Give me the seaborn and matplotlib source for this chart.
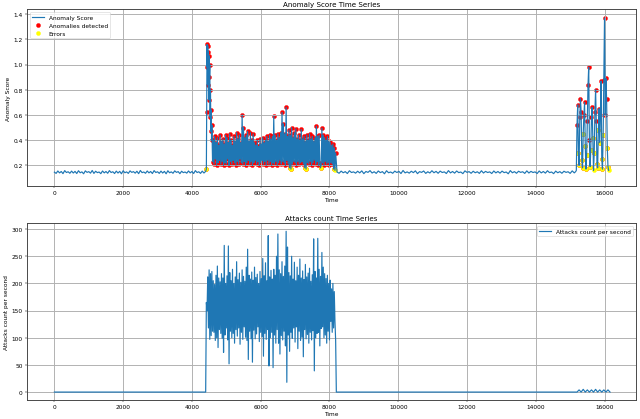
import numpy as np
import pandas as pd
import matplotlib
matplotlib.use("Agg")
import matplotlib.pyplot as plt
import seaborn as sns

# anomaly score, one segment at a time
# quiet period, t = 0 .. 4400 every 50
score_calm1 = [
    0.146, 0.136, 0.155, 0.140, 0.151, 0.134, 0.158, 0.143, 0.149, 0.137,
    0.154, 0.139, 0.152, 0.135, 0.157, 0.141, 0.148, 0.133, 0.156, 0.144,
    0.150, 0.138, 0.159, 0.136, 0.153, 0.142, 0.147, 0.134, 0.155, 0.140,
    0.151, 0.137, 0.158, 0.143, 0.149, 0.135, 0.154, 0.139, 0.152, 0.133,
    0.157, 0.141, 0.148, 0.136, 0.156, 0.144, 0.150, 0.138, 0.153, 0.134,
    0.159, 0.142, 0.147, 0.137, 0.155, 0.140, 0.151, 0.135, 0.158, 0.143,
    0.149, 0.136, 0.154, 0.139, 0.152, 0.133, 0.157, 0.141, 0.148, 0.137,
    0.156, 0.144, 0.150, 0.134, 0.153, 0.142, 0.147, 0.138, 0.155, 0.140,
    0.151, 0.135, 0.158, 0.143, 0.149, 0.136, 0.154, 0.139, 0.152,
]
# first burst, t = 4420 .. every 10
score_burst1 = [
    0.17, 0.62, 1.16, 0.98, 1.15, 0.84, 1.10, 0.72, 1.07, 0.90,
    1.00, 0.58, 0.80, 0.47, 0.64, 0.40, 0.52,
]
# first attack, t = 4600 .. every 20
score_attack1 = [
    0.23, 0.40, 0.21, 0.43, 0.25, 0.38, 0.20, 0.42, 0.22, 0.36,
    0.24, 0.44, 0.21, 0.39, 0.23, 0.41, 0.20, 0.37, 0.22, 0.44,
    0.21, 0.42, 0.25, 0.38, 0.20, 0.45, 0.23, 0.40, 0.21, 0.36,
    0.24, 0.43, 0.22, 0.39, 0.20, 0.46, 0.23, 0.41, 0.21, 0.44,
    0.25, 0.38, 0.22, 0.60, 0.21, 0.50, 0.23, 0.42, 0.20, 0.44,
    0.22, 0.47, 0.24, 0.39, 0.21, 0.46, 0.23, 0.40, 0.20, 0.45,
    0.22, 0.38, 0.24, 0.36, 0.21, 0.40, 0.23, 0.35, 0.20, 0.41,
    0.22, 0.37, 0.24, 0.42, 0.21, 0.38, 0.23, 0.40, 0.20, 0.43,
    0.24, 0.39, 0.21, 0.44, 0.23, 0.41, 0.20, 0.43, 0.22, 0.59,
    0.21, 0.44, 0.23, 0.40, 0.20, 0.45, 0.22, 0.42, 0.24, 0.46,
    0.21, 0.62, 0.23, 0.53, 0.22, 0.45, 0.20, 0.66, 0.24, 0.43,
    0.21, 0.48, 0.18, 0.44, 0.17, 0.50, 0.21, 0.42, 0.23, 0.46,
    0.22, 0.49, 0.20, 0.41, 0.23, 0.44, 0.21, 0.40, 0.22, 0.485,
    0.23, 0.41, 0.21, 0.43, 0.18, 0.39, 0.17, 0.44, 0.22, 0.40,
    0.21, 0.45, 0.23, 0.41, 0.20, 0.43, 0.22, 0.39, 0.24, 0.42,
    0.21, 0.51, 0.23, 0.43, 0.20, 0.44, 0.22, 0.18, 0.21, 0.495,
    0.22, 0.44, 0.20, 0.42, 0.23, 0.40, 0.21, 0.43, 0.22, 0.39,
    0.20, 0.385, 0.22, 0.36, 0.21, 0.37, 0.17, 0.34, 0.16, 0.30,
]
# quiet period, t = 8220 .. every 60
score_calm2 = [
    0.147, 0.137, 0.154, 0.141, 0.150, 0.135, 0.157, 0.143, 0.148, 0.138,
    0.153, 0.140, 0.156, 0.134, 0.151, 0.144, 0.158, 0.139, 0.149, 0.136,
    0.155, 0.142, 0.150, 0.133, 0.157, 0.141, 0.147, 0.137, 0.154, 0.143,
    0.152, 0.135, 0.159, 0.140, 0.148, 0.138, 0.153, 0.142, 0.156, 0.134,
    0.150, 0.144, 0.155, 0.136, 0.149, 0.139, 0.157, 0.141, 0.152, 0.137,
    0.154, 0.143, 0.148, 0.135, 0.158, 0.140, 0.151, 0.138, 0.155, 0.142,
    0.147, 0.134, 0.156, 0.144, 0.150, 0.137, 0.153, 0.141, 0.149, 0.136,
    0.157, 0.139, 0.152, 0.143, 0.148, 0.135, 0.155, 0.140, 0.151, 0.138,
    0.154, 0.142, 0.147, 0.133, 0.158, 0.141, 0.150, 0.137, 0.153, 0.144,
    0.149, 0.136, 0.156, 0.139, 0.152, 0.143, 0.148, 0.135, 0.155, 0.140,
    0.151, 0.138, 0.157, 0.142, 0.147, 0.134, 0.154, 0.141, 0.150, 0.137,
    0.153, 0.144, 0.149, 0.136, 0.156, 0.140,
]
# second attack, t = 15160 .. every 20
score_attack2 = [
    0.15, 0.16, 0.52, 0.68, 0.30, 0.20, 0.58, 0.73, 0.62, 0.24,
    0.18, 0.45, 0.60, 0.70, 0.35, 0.17, 0.28, 0.55, 0.84, 0.98,
    0.40, 0.19, 0.32, 0.58, 0.66, 0.42, 0.16, 0.30, 0.62, 0.80,
    0.55, 0.21, 0.18, 0.48, 0.65, 0.38, 0.60, 0.87, 0.25, 0.17,
    0.44, 0.88, 1.37, 0.60, 0.89, 0.73, 0.34, 0.19, 0.16,
]

# times of the points marked as errors
error_times = [
    4420, 6840, 6880, 7280, 7320, 7740, 8120, 8160,
    15240, 15260, 15340, 15360, 15380, 15440, 15460, 15480, 15580, 15600,
    15660, 15680, 15700, 15780, 15800, 15820, 15860, 15920, 15940, 15960,
    16080, 16100, 16120,
]
threshold = 0.16

# attacks per second
attack_calm1_t = [0, 4400]
attack_calm1 = [0, 0]
# flood, t = 4420 .. every 20
attack_flood = [
    165, 150, 212, 118, 225, 97, 218, 104, 222, 112,
    205, 110, 198, 95, 215, 100, 232, 82, 210, 115,
    203, 108, 218, 99, 210, 73, 270, 105, 200, 118,
    214, 96, 269, 52, 220, 112, 205, 100, 226, 108,
    200, 90, 212, 115, 240, 103, 207, 118, 219, 88,
    202, 110, 225, 97, 213, 120, 204, 101, 230, 95,
    263, 60, 215, 112, 208, 98, 221, 55, 206, 114,
    230, 98, 211, 107, 217, 120, 200, 93, 222, 110,
    209, 102, 246, 66, 214, 108, 238, 97, 205, 115,
    288, 48, 212, 100, 224, 110, 208, 45, 226, 105,
    215, 90, 250, 115, 291, 90, 225, 70, 218, 104,
    240, 96, 213, 112, 232, 85, 296, 18, 267, 105,
    220, 75, 214, 110, 250, 99, 208, 118, 239, 92,
    205, 120, 230, 80, 215, 112, 245, 95, 210, 101,
    223, 65, 207, 115, 235, 98, 212, 106, 219, 90,
    228, 110, 204, 96, 216, 113, 282, 39, 222, 100,
    210, 108, 283, 110, 226, 85, 213, 117, 257, 120,
    230, 100, 218, 105, 209, 90, 215, 112, 200, 96,
    206, 130, 190, 110, 200, 118, 185, 130, 95,
]
attack_calm2_t = [8200, 15200]
attack_calm2 = [0, 0]
# small probe, t = 15200 .. every 60
attack_probe = [0, 4, 0, 5, 0, 4, 0, 4, 0, 5, 0, 4, 0, 4, 0, 4, 0]


def seg(start, step, values):
    return start + step * np.arange(len(values))


score_df = pd.DataFrame({
    "time": np.concatenate([
        seg(0, 50, score_calm1), seg(4420, 10, score_burst1),
        seg(4600, 20, score_attack1), seg(8220, 60, score_calm2),
        seg(15160, 20, score_attack2)]),
    "score": np.concatenate([score_calm1, score_burst1, score_attack1,
                             score_calm2, score_attack2]),
})
anomalies = score_df[score_df["score"] > threshold]
errors = score_df[score_df["time"].isin(error_times)]

attack_df = pd.DataFrame({
    "time": np.concatenate([
        attack_calm1_t, seg(4420, 20, attack_flood), attack_calm2_t,
        seg(15200, 60, attack_probe)]),
    "count": np.concatenate([attack_calm1, attack_flood, attack_calm2,
                             attack_probe]),
})

fig, (ax1, ax2) = plt.subplots(2, 1, figsize=(15, 9.84))
fig.subplots_adjust(left=0.042, right=0.994, top=0.976, bottom=0.045,
                    hspace=0.21)

sns.lineplot(data=score_df, x="time", y="score", ax=ax1, color="C0",
             estimator=None, linewidth=2, label="Anomaly Score")
sns.scatterplot(data=anomalies, x="time", y="score", ax=ax1, color="red",
                edgecolor="red", s=50, label="Anomalies detected")
sns.scatterplot(data=errors, x="time", y="score", ax=ax1, color="yellow",
                edgecolor="yellow", s=50, label="Errors")
ax1.set_title("Anomaly Score Time Series")
ax1.set_xlabel("Time")
ax1.set_ylabel("Anomaly Score")
ax1.set_ylim(0.035, 1.44)
ax1.legend(loc="upper left")

sns.lineplot(data=attack_df, x="time", y="count", ax=ax2, color="C0",
             estimator=None, linewidth=2, label="Attacks count per second")
ax2.set_title("Attacks count Time Series")
ax2.set_xlabel("Time")
ax2.set_ylabel("Attacks count per second")
ax2.legend(loc="upper right")

for ax in (ax1, ax2):
    ax.set_xlim(-800, 16920)
    ax.grid(True, color="#b0b0b0", linewidth=1.6)
    for sp in ax.spines.values():
        sp.set_linewidth(1.6)
        sp.set_color("#444444")

plt.savefig("out.png", dpi=640 / 15, facecolor="white")
